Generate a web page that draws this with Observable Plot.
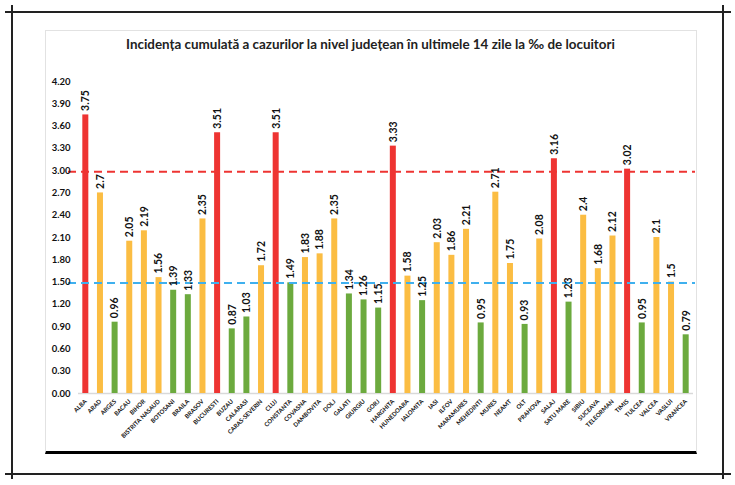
<!DOCTYPE html>
<html>
<head>
<meta charset="utf-8">
<script src="https://cdn.jsdelivr.net/npm/d3@7"></script>
<script src="https://cdn.jsdelivr.net/npm/@observablehq/plot@0.6"></script>
<style>
  html, body { margin: 0; padding: 0; background: #fff; }
  #wrap { position: relative; width: 735px; height: 485px; overflow: hidden; font-family: Lato, "Liberation Sans", sans-serif; }
  .ln { position: absolute; background: #222; }
  #inner { position: absolute; left: 45px; top: 30px; width: 650px; height: 420px; border: 1px solid #e2e2e2; border-bottom: 3px solid #000; }
  #title { position: absolute; left: 45px; width: 651px; top: 36px; text-align: center; font-weight: bold; font-size: 13.4px; color: #222; }
  #chart { position: absolute; left: 0; top: 0; }
</style>
</head>
<body>
<div id="wrap">
  <div class="ln" style="left:5px;top:11px;width:726px;height:1.5px"></div>
  <div class="ln" style="left:5px;top:473px;width:726px;height:1.5px"></div>
  <div class="ln" style="left:11px;top:5px;width:1.5px;height:474px"></div>
  <div class="ln" style="left:722px;top:5px;width:1.5px;height:474px"></div>
  <div id="inner"></div>
  <div id="title">Incidența cumulată a cazurilor la nivel județean în ultimele 14 zile la ‰ de locuitori</div>
  <div id="chart"></div>
</div>
<script>
const counties = ["ALBA","ARAD","ARGES","BACAU","BIHOR","BISTRITA NASAUD","BOTOSANI","BRAILA","BRASOV","BUCURESTI","BUZAU","CALARASI","CARAS-SEVERIN","CLUJ","CONSTANTA","COVASNA","DAMBOVITA","DOLJ","GALATI","GIURGIU","GORJ","HARGHITA","HUNEDOARA","IALOMITA","IASI","ILFOV","MARAMURES","MEHEDINTI","MURES","NEAMT","OLT","PRAHOVA","SALAJ","SATU MARE","SIBIU","SUCEAVA","TELEORMAN","TIMIS","TULCEA","VALCEA","VASLUI","VRANCEA"];
const incidence = [3.75,2.7,0.96,2.05,2.19,1.56,1.39,1.33,2.35,3.51,0.87,1.03,1.72,3.51,1.49,1.83,1.88,2.35,1.34,1.26,1.15,3.33,1.58,1.25,2.03,1.86,2.21,0.95,2.71,1.75,0.93,2.08,3.16,1.23,2.4,1.68,2.12,3.02,0.95,2.1,1.5,0.79];
const levels = ["high","mid","low","mid","mid","mid","low","low","mid","high","low","low","mid","high","low","mid","mid","mid","low","low","low","high","mid","low","mid","mid","mid","low","mid","mid","low","mid","high","low","mid","mid","mid","high","low","mid","mid","low"];
const levelNames = ["high","mid","low"];
const levelColors = ["#ee3432","#fbbd43","#6caa3e"];
const yTicks = [0,0.3,0.6,0.9,1.2,1.5,1.8,2.1,2.4,2.7,3.0,3.3,3.6,3.9,4.2];
const thresholds = [2.985, 1.487];
const thresholdColors = ["#ee3432","#3fb0ee"];

const data = counties.map((c, i) => ({county: c, value: incidence[i], level: levels[i]}));
const thr = thresholds.map((t, i) => ({t, color: thresholdColors[i]}));

const chart = Plot.plot({
  width: 735,
  height: 485,
  marginTop: 81,
  marginBottom: 92,
  marginLeft: 78,
  marginRight: 42,
  style: {fontFamily: "Lato, 'Liberation Sans', sans-serif", background: "transparent", color: "#111"},
  x: {domain: counties, paddingInner: 0.59, paddingOuter: 0.295, round: false, label: null},
  y: {domain: [0, 4.2], label: null},
  color: {domain: levelNames, range: levelColors},
  marks: [
    Plot.ruleY([0], {stroke: "#d9d9d9", strokeWidth: 1.5}),
    Plot.barY(data, {x: "county", y: "value", fill: "level"}),
    Plot.ruleY(thr, {y: "t", stroke: "color", strokeWidth: 2, strokeDasharray: "8,5", insetLeft: -10, insetRight: -2}),
    Plot.text(data, {x: "county", y: "value", text: d => String(d.value), rotate: -90, textAnchor: "start", dy: -4, fontSize: 10.5, fontWeight: "bold", fill: "#111"}),
    Plot.axisY({ticks: yTicks, tickFormat: d3.format(".2f"), tickSize: 0, tickPadding: 8, fontSize: 9.5, fontWeight: "bold", label: null}),
    Plot.axisX({tickSize: 0, tickPadding: 7, tickRotate: -45, fontSize: 6, fontWeight: "bold", label: null})
  ]
});
document.getElementById("chart").appendChild(chart);
</script>
</body>
</html>
